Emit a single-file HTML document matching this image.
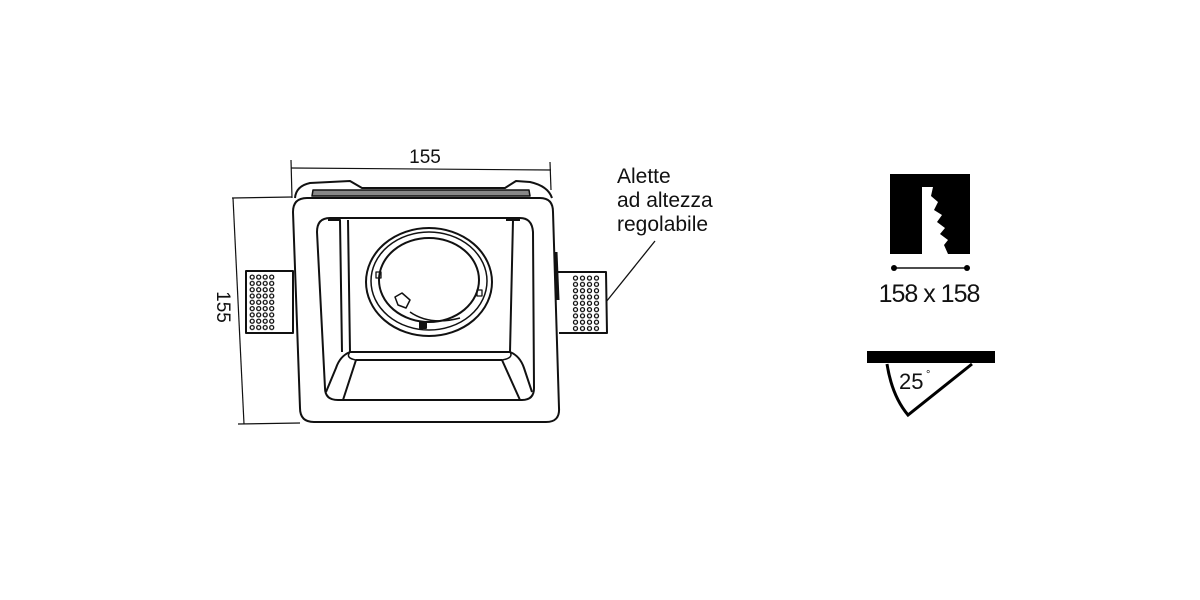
<!DOCTYPE html>
<html><head><meta charset="utf-8"><style>
html,body{margin:0;padding:0;background:#fff;width:1200px;height:600px;overflow:hidden}
svg{display:block}
text{font-family:"Liberation Sans",sans-serif;fill:#111}
</style></head><body>
<svg width="1200" height="600" viewBox="0 0 1200 600" xmlns="http://www.w3.org/2000/svg">
<defs>
<pattern id="dotsL" x="249" y="274" width="6.5" height="6.3" patternUnits="userSpaceOnUse">
<circle cx="3.2" cy="3.1" r="2" fill="none" stroke="#111" stroke-width="1.3"/>
</pattern>
<pattern id="dotsR" x="572" y="275" width="7" height="6.3" patternUnits="userSpaceOnUse">
<circle cx="3.5" cy="3.1" r="2" fill="none" stroke="#111" stroke-width="1.3"/>
</pattern>
</defs>
<g fill="none" stroke="#111" stroke-width="2" stroke-linejoin="round">
<line x1="291" y1="168" x2="551" y2="170" stroke-width="1.2"/>
<line x1="291" y1="160" x2="292" y2="198" stroke-width="1.2"/>
<line x1="550" y1="162" x2="551" y2="190" stroke-width="1.2"/>
<line x1="232" y1="198" x2="292" y2="197" stroke-width="1.2"/>
<line x1="233" y1="198" x2="244" y2="424" stroke-width="1.2"/>
<line x1="238" y1="424" x2="300" y2="423" stroke-width="1.2"/>
<rect x="246" y="271" width="47" height="62" fill="#fff"/>
<rect x="249" y="274" width="26" height="56.7" fill="url(#dotsL)" stroke="none"/>
<path d="M556 272 L606 272 L607 333 L559 333" fill="#fff"/>
<rect x="572" y="275" width="28" height="56.7" fill="url(#dotsR)" stroke="none"/>
<line x1="556" y1="252" x2="558" y2="300" stroke-width="3"/>
<line x1="606" y1="302" x2="655" y2="241" stroke-width="1.3"/>
<path d="M295 198 Q296 186 310 183 L350 181 L362 188 L505 188 L516 181 L530 182 Q548 186 552 198" fill="#fff"/>
<path d="M312 196 L530 196 L529 190 L313 190 Z" fill="#888" stroke-width="1.5"/>
<path d="M307 198 L540 198 Q553 198 553 212 L559 408 Q560 422 546 422 L314 422 Q300 422 300 408 L293 212 Q293 198 307 198 Z" fill="#fff"/>
<path d="M330 218 L520 218 Q532 218 533 232 L534 388 Q534 400 522 400 L338 400 Q325 400 325 388 L317 232 Q317 218 330 218 Z"/>
<path d="M348 220 L350 352 M513 220 L510 352"/>
<path d="M328 220 L340 220 L342 352 M520 220 L506 220"/>
<path d="M350 352 L510 352 M356 360 L502 360"/>
<path d="M350 352 Q345 358 356 360 M510 352 Q514 358 502 360" stroke-width="1.5"/>
<path d="M350 352 Q340 356 336 368 L326 392 M356 360 L343 400"/>
<path d="M510 352 Q520 356 524 368 L532 392 M502 360 L520 400"/>
<ellipse cx="429" cy="282" rx="63" ry="54"/>
<ellipse cx="429" cy="281" rx="58" ry="49" stroke-width="1.5"/>
<ellipse cx="429" cy="280" rx="50" ry="42"/>
<rect x="376" y="272" width="5" height="6" stroke-width="1.3"/>
<rect x="477" y="290" width="5" height="6" stroke-width="1.3"/>
<path d="M395 297 L402 293 L410 300 L406 308 L398 305 Z" stroke-width="1.5"/>
<rect x="420" y="322" width="6" height="6" fill="#111"/>
<path d="M410 312 Q430 326 460 318" stroke-width="1.5"/>
</g>
<text x="425" y="163" font-size="19" text-anchor="middle">155</text>
<text x="0" y="0" font-size="19" text-anchor="middle" transform="translate(217 307) rotate(90)">155</text>
<text x="617" y="183" font-size="21">Alette</text>
<text x="617" y="207" font-size="21">ad altezza</text>
<text x="617" y="231" font-size="21">regolabile</text>
<path d="M890 174 L970 174 L970 254 L948 254 L944 245 L948 240 L940 234 L945 228 L937 222 L942 215 L934 210 L938 202 L931 196 L933 187 L922 187 L922 254 L890 254 Z" fill="#000"/>
<line x1="894" y1="268" x2="967" y2="268" stroke="#111" stroke-width="1.5"/>
<circle cx="894" cy="268" r="3" fill="#000"/>
<circle cx="967" cy="268" r="3" fill="#000"/>
<text x="929" y="302" font-size="25" text-anchor="middle" letter-spacing="-1">158 x 158</text>
<rect x="867" y="351" width="128" height="12" fill="#000"/>
<path d="M887 364 Q892 396 908 415 L972 364" fill="none" stroke="#000" stroke-width="3"/>
<text x="899" y="389" font-size="22">25</text>
<text x="926" y="378" font-size="11">°</text>
</svg>
</body></html>
